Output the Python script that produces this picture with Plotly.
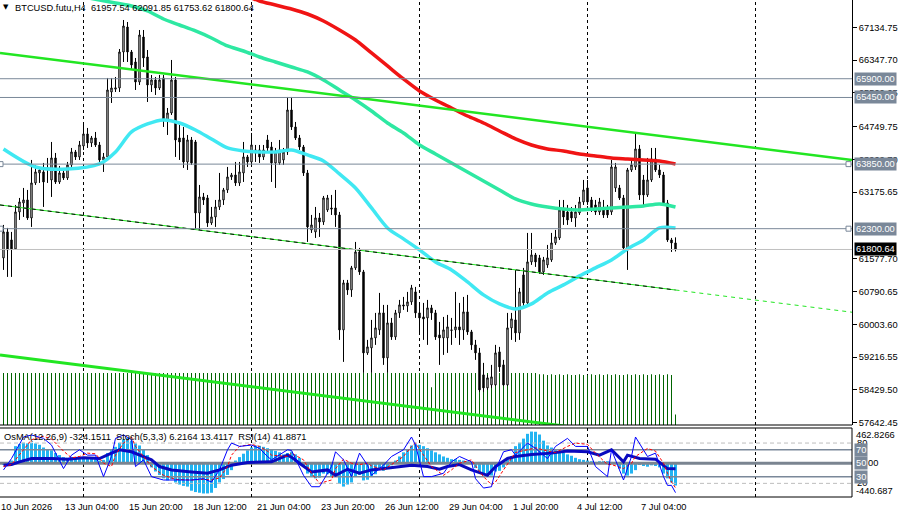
import plotly.graph_objects as go

# ---------------- data ----------------
bars = list(range(169))  # H4 bars, 10 Jun 16:00 ... 8 Jul 16:00

open_ = [
    61598, 62222, 62030, 61814, 62702, 62918, 62990, 62558, 63398, 63638,
    63662, 63758, 63470, 63998, 63422, 63638, 63518, 63830, 64142, 64022,
    64286, 64574, 64358, 64478, 64310, 63950, 64022, 65582, 65650, 65678,
    66542, 67142, 66542, 66302, 65822, 66902, 66422, 65750, 65870, 65678,
    65918, 64910, 65078, 65870, 64478, 64478, 63902, 64430, 64382, 62678,
    63062, 63038, 62438, 62582, 62822, 62990, 63230, 63542, 63590, 63398,
    63638, 64022, 63902, 64190, 64190, 64022, 64430, 64262, 63878, 63878,
    63950, 64142, 65150, 64742, 64478, 64262, 63638, 62270, 62222, 62558,
    62462, 62750, 62798, 62798, 62630, 59870, 60998, 60830, 61358, 61742,
    61262, 59318, 59438, 59678, 59870, 60278, 59198, 60038, 59702, 60278,
    60470, 60446, 60542, 60782, 60278, 60182, 60158, 60398, 60278, 59750,
    59678, 59678, 59870, 59870, 59942, 59870, 60302, 59822, 59510, 59318,
    58790, 58478, 58550, 58550, 59342, 59030, 58550, 59918, 60110, 59798,
    61190, 60518, 61502, 61670, 61598, 61262, 61430, 61550, 61958, 62078,
    62750, 62702, 62702, 62558, 62678, 62942, 63278, 62990, 62870, 62702,
    62750, 62750, 62702, 63278, 63278, 63038, 61790, 63710, 63782, 64214,
    63470, 63110, 63470, 63974, 63710, 63590, 62918, 62030, 61957.54]

high = [
    62390, 62318, 62222, 62870, 63038, 63278, 63230, 63950, 63830, 63758,
    63878, 63998, 64382, 64118, 63806, 63710, 63902, 64238, 64190, 64406,
    64790, 64718, 64526, 64622, 64382, 64118, 65918, 65918, 65942, 66614,
    67310, 67262, 66590, 66398, 67070, 67070, 66590, 65990, 65942, 65990,
    65990, 65198, 66350, 65942, 64790, 64742, 64550, 64502, 64430, 63350,
    63158, 63110, 62822, 62990, 63638, 63278, 63782, 63638, 63902, 63902,
    64382, 64070, 64598, 64310, 64310, 64310, 64550, 64382, 64238, 64430,
    64238, 65462, 65462, 64862, 64550, 64310, 63710, 62630, 62822, 62678,
    63086, 63110, 63110, 63230, 62702, 61070, 61070, 61406, 61982, 61838,
    61310, 59630, 60110, 60278, 60758, 60470, 60470, 60158, 60350, 60590,
    60662, 60782, 60950, 60902, 60518, 60518, 60590, 60470, 60350, 60062,
    60182, 60230, 60158, 60782, 60518, 60662, 60710, 59870, 59630, 59438,
    59078, 58790, 59030, 59510, 59462, 59150, 60278, 60278, 61310, 60878,
    61358, 62198, 62198, 61718, 61670, 61622, 61910, 62198, 62270, 62990,
    62990, 62870, 62822, 62870, 63062, 63470, 63470, 63062, 62990, 63038,
    62990, 62870, 63950, 63878, 63350, 63110, 63758, 63950, 64598, 64310,
    63590, 63998, 64238, 64238, 63830, 63662, 62990, 62078, 62091.85]

low = [
    61310, 61142, 61142, 61790, 62510, 62582, 62510, 62342, 63350, 63398,
    62822, 63398, 63062, 63374, 63374, 63470, 63470, 63782, 63950, 63950,
    64190, 64238, 64262, 64262, 63902, 63662, 63950, 65318, 65582, 65582,
    66302, 66302, 66110, 65630, 65750, 66182, 65342, 65582, 65510, 65630,
    64742, 64550, 65030, 64022, 63950, 63758, 63710, 63830, 62270, 62270,
    62870, 62342, 62390, 62342, 62750, 62870, 63158, 63470, 63326, 63326,
    63422, 63782, 63830, 63902, 63878, 63950, 64142, 63422, 63278, 63830,
    63830, 64070, 64670, 64430, 64190, 63566, 61982, 62198, 62078, 62102,
    62390, 62702, 62630, 62342, 59630, 59102, 60710, 60662, 61310, 61190,
    58838, 59270, 58838, 59510, 59750, 59030, 58838, 59630, 59630, 60158,
    60350, 60302, 60470, 60158, 59750, 59630, 59510, 60110, 59630, 59030,
    59270, 59318, 59510, 59678, 59510, 59630, 59750, 59390, 59150, 58382,
    58382, 58430, 58478, 58526, 58862, 58526, 58526, 59630, 59582, 59630,
    60398, 60470, 61430, 61382, 61214, 61190, 61358, 61502, 61910, 62030,
    62390, 62390, 62462, 62342, 62630, 62870, 62870, 62702, 62630, 62630,
    62558, 62558, 62630, 63182, 62990, 61766, 61310, 63662, 63710, 62990,
    62870, 63062, 63422, 63662, 63518, 62870, 61982, 61742, 61753.62]

close = [
    62222, 61790, 61814, 62702, 62942, 62990, 62558, 63398, 63662, 63710,
    63422, 63734, 63998, 63422, 63638, 63518, 63830, 64142, 64022, 64310,
    64574, 64358, 64478, 64310, 63950, 64022, 65630, 65678, 65680, 66542,
    67166, 66542, 66230, 65822, 66950, 66398, 65750, 65870, 65678, 65870,
    64910, 65078, 65870, 64430, 64382, 63902, 64430, 63878, 62678, 63062,
    62990, 62438, 62582, 62822, 62990, 63230, 63542, 63590, 63398, 63662,
    64022, 63902, 64310, 64118, 64022, 64190, 64238, 63878, 64142, 64190,
    64142, 65150, 64742, 64478, 64262, 63638, 62342, 62390, 62558, 62462,
    63038, 63038, 62774, 62630, 59870, 60998, 60830, 61358, 61742, 61262,
    59318, 59462, 59678, 59918, 60278, 59198, 60038, 59702, 60278, 60470,
    60446, 60542, 60878, 60278, 60158, 60134, 60398, 60278, 59702, 59678,
    59870, 59942, 59860, 59942, 59870, 60302, 59822, 59510, 59318, 58430,
    58478, 58718, 58742, 59318, 58982, 58550, 59918, 60134, 59798, 60782,
    60518, 61502, 61670, 61502, 61262, 61550, 61598, 61958, 62102, 62750,
    62582, 62510, 62558, 62702, 62942, 63230, 62942, 62798, 62702, 62942,
    62630, 62630, 63782, 63782, 63038, 61838, 63710, 63830, 64214, 63110,
    63110, 63470, 63974, 63710, 63590, 62918, 62030, 61958, 61800.64]

volume = [
    4000, 4000, 4000, 4000, 4000, 4000, 4000, 4000, 4000, 4000,
    4000, 4000, 4000, 4000, 4000, 4000, 4000, 4000, 4000, 4000,
    4000, 4000, 4000, 4000, 4000, 4000, 4000, 4000, 4000, 4000,
    4000, 4000, 4000, 4000, 4000, 4000, 4000, 4000, 4000, 4000,
    4000, 4000, 4000, 4000, 4000, 4000, 4000, 4000, 4000, 4000,
    4000, 4000, 4000, 4000, 4000, 4000, 4000, 4000, 4000, 4000,
    4000, 4000, 4000, 4000, 4000, 4000, 4000, 4000, 4000, 4000,
    4000, 4000, 4000, 4000, 4000, 4000, 4000, 4000, 4000, 4000,
    4000, 4000, 4000, 4000, 4000, 4000, 4000, 4000, 4000, 4000,
    4000, 4000, 4000, 4000, 4000, 4000, 4000, 4000, 4000, 4000,
    4000, 4000, 4000, 4000, 4000, 4000, 4000, 2900, 4000, 4000,
    4000, 4000, 4000, 4000, 4000, 4000, 4000, 4000, 4000, 4000,
    4000, 4000, 4000, 4000, 4000, 4000, 4000, 4000, 4000, 4000,
    4000, 4000, 4000, 4000, 3900, 3900, 3850, 3900, 3850, 3900,
    3850, 3900, 3850, 3850, 3900, 3850, 3850, 3900, 3850, 3900,
    3850, 3900, 3850, 3900, 3850, 3850, 3900, 3850, 3900, 3850,
    3900, 3850, 3900, 3850, 3900, 3850, 3900, 3850, 800]

# moving averages (read at sample bars)
ma_fast_bar = [0, 8, 16, 24, 28, 32, 36, 40, 44, 48, 52, 56, 60, 64, 68, 72, 76, 80, 84, 88,
               92, 96, 100, 104, 108, 112, 116, 120, 124, 128, 132, 136, 140, 144, 148, 152,
               156, 160, 164, 168]
ma_fast = [64214, 63782, 63734, 63854, 64142, 64622, 64814, 64910, 64838, 64670, 64454,
           64238, 64166, 64142, 64142, 64190, 64070, 63926, 63614, 63278, 62798, 62318,
           62054, 61790, 61502, 61310, 61022, 60710, 60494, 60374, 60494, 60758, 60950,
           61166, 61358, 61550, 61814, 62030, 62318, 62318]

ma_mid_bar = list(range(20, 169, 4))
ma_mid = [67862, 67790, 67718, 67646, 67526, 67334, 67190, 67046, 66878, 66686, 66566,
          66422, 66302, 66182, 66062, 65870, 65630, 65390, 65126, 64838, 64598, 64310,
          64094, 63878, 63662, 63446, 63230, 63014, 62894, 62822, 62774, 62750, 62774,
          62798, 62822, 62846, 62894, 62822]

ma_slow_bar = [62] + list(range(64, 169, 4))
ma_slow = [67838, 67766, 67670, 67574, 67454, 67286, 67070, 66830, 66518, 66206, 65894,
           65606, 65390, 65198, 65006, 64838, 64646, 64454, 64310, 64214, 64166, 64094,
           64046, 63998, 63974, 63950, 63926, 63854]

# trend lines: two anchor points each (bar, price)
trend_bars = [0, 168]
upper_line = [66508, 64482]
middle_line = [62859, 60828]
lower_line = [59258, 57227]

# horizontal levels
h_levels = [65900.00, 65450.00, 63850.00, 62300.00]
last_price = 61800.64

# price axis labels
price_ticks = [67134.75, 66347.70, 65560.65, 64749.75, 63962.70, 63175.65, 61577.70,
               60790.65, 60003.60, 59216.55, 58429.50, 57642.45]

# date labels
date_bars = [-0.875, 15, 31, 47, 63, 79, 95, 111, 127, 143, 159]
date_text = ["10 Jun 2026", "13 Jun 04:00", "15 Jun 20:00", "18 Jun 12:00", "21 Jun 04:00",
             "23 Jun 20:00", "26 Jun 12:00", "29 Jun 04:00", "1 Jul 20:00", "4 Jul 12:00",
             "7 Jul 04:00"]
grid_bars = list(range(20, 213, 42))

# indicators
osma = [
    -20, 10, 40, 250, 280, 300, 290, 300, 290, 270,
    230, 200, 190, 150, 120, 90, 80, 90, 80, 80,
    90, 80, 70, 60, 40, 50, 150, 200, 240, 300,
    350, 370, 330, 290, 260, 200, 120, -60, -120, -170,
    -220, -250, -230, -280, -310, -330, -340, -400, -420, -430,
    -440.687, -440, -430, -360, -280, -230, -170, -100, 40, 90,
    140, 190, 230, 260, 255, 240, 220, 200, 180, 160,
    130, 150, 170, 130, 80, -40, -150, -200, -220, -210,
    -150, -160, -190, -200, -300, -340, -310, -280, -200, -170,
    -250, -240, -200, -160, -100, -110, -60, -30, 40, 100,
    160, 200, 260, 280, 270, 250, 220, 190, 160, 130,
    100, 80, 60, 60, 50, 40, 30, -10, -70, -130,
    -170, -190, -180, -120, -110, -60, 50, 100, 250, 300,
    360, 430, 462.8266, 460, 420, 330, 260, 230, 200, 170,
    150, 130, 110, 80, 60, 50, 40, 30, 20, 30,
    30, 30, 20, 20, -80, -150, -180, -150, -100, -20,
    -40, -50, -30, -40, -60, -150, -220, -280, -324.1511]

stoch_bar = [0, 2, 5, 7, 10, 12, 15, 17, 19, 21, 23, 25, 27, 28, 30, 32, 33, 35, 37, 40,
             43, 47, 50, 52, 54, 56, 57, 59, 62, 64, 66, 67, 71, 72, 75, 77, 79, 82, 83, 85,
             87, 89, 91, 92, 95, 97, 100, 102, 103, 105, 107, 110, 112, 114, 117, 118, 120,
             122, 123, 125, 127, 128, 131, 133, 136, 138, 141, 143, 146, 148, 151, 152, 155,
             157, 158, 161, 163, 165, 166, 167, 168]
stoch_main = [40, 57, 89, 92, 87, 77, 42, 62, 70, 62, 62, 30, 60, 87, 92, 85, 45, 55, 30, 25,
              25, 25, 27, 22, 40, 70, 80, 75, 77, 72, 60, 55, 70, 69, 32, 15, 15, 45, 67, 55,
              30, 65, 47, 32, 47, 60, 70, 89, 77, 30, 30, 35, 52, 60, 52, 27, 13, 15, 40, 67,
              70, 62, 80, 72, 57, 75, 87, 75, 75, 45, 30, 70, 25, 60, 89, 60, 65, 30, 17, 17,
              6.2164]
stoch_signal = [45, 48, 70, 85, 90, 86, 68, 58, 60, 65, 64, 50, 45, 62, 80, 89, 75, 60, 45, 32,
                26, 25, 26, 25, 28, 45, 62, 75, 78, 75, 68, 62, 60, 65, 55, 35, 20, 25, 42, 56,
                50, 48, 50, 46, 40, 48, 60, 75, 80, 62, 45, 32, 40, 50, 55, 46, 30, 18, 22, 40,
                58, 66, 70, 73, 68, 66, 75, 80, 78, 65, 48, 48, 42, 50, 60, 72, 68, 50, 35, 22,
                13.4117]

rsi_bar = [0, 2, 4, 7, 12, 16, 20, 24, 27, 29, 32, 34, 37, 39, 42, 47, 51, 54, 57, 61, 64, 67,
           71, 72, 74, 77, 81, 83, 86, 89, 92, 96, 99, 102, 106, 109, 111, 114, 117, 121, 123,
           126, 128, 132, 137, 141, 146, 149, 152, 155, 156, 159, 163, 166, 168]
rsi_val = [47, 48, 52, 57, 57, 56, 58, 57, 65, 70, 67, 62, 55, 45, 40, 37, 35, 40, 47, 51, 51,
           52, 62, 59, 50, 37, 40, 32, 41, 35, 40, 43, 45, 47, 45, 41, 45, 48, 40, 32, 45, 57,
           60, 63, 65, 68, 67, 62, 70, 52, 62, 57, 56, 42, 41.8871]

osc_levels = [80, 70, 50, 30, 20]

# ---------------- layout constants ----------------
W, H = 899, 516
ML, MR, MT, MB = 0, 47, 0, 19
PH = H - MT - MB                      # 497 px plot-area height
main_bottom = (PH - 425) / PH          # main window bottom at 425 px
panel_top = (PH - 428) / PH            # indicator window top at 428 px
x_range = [-0.875, 212.125]
price_range = [57587, 67790]
vol_range = [0, 32700]
osma_range = [-492, 515]
osc_range = [-0.3, 102.4]
FONT = "Liberation Sans"
FS = 9.3

def py(px):
    return (PH - px) / PH

def extend(b, p, xs):
    k = (p[1] - p[0]) / (b[1] - b[0])
    return [p[0] + k * (x - b[0]) for x in xs]

fig = go.Figure()

# volumes (base layer of main window)
fig.add_trace(go.Bar(x=bars, y=volume, xaxis="x", yaxis="y", width=0.25,
                     marker=dict(color="#006400", line=dict(width=0)),
                     hoverinfo="skip", showlegend=False))

# candles
fig.add_trace(go.Candlestick(
    x=bars, open=open_, high=high, low=low, close=close, xaxis="x", yaxis="y2",
    increasing=dict(line=dict(color="#000000", width=1), fillcolor="#FFFFFF"),
    decreasing=dict(line=dict(color="#000000", width=1), fillcolor="#000000"),
    whiskerwidth=0, hoverinfo="skip", showlegend=False))

# moving averages
for xb, yv, col in [(ma_slow_bar, ma_slow, "#F01414"),
                    (ma_mid_bar, ma_mid, "#2EE8A2"),
                    (ma_fast_bar, ma_fast, "#40E8F2")]:
    fig.add_trace(go.Scatter(x=xb, y=yv, xaxis="x", yaxis="y2", mode="lines",
                             line=dict(color=col, width=3.5, shape="spline", smoothing=0.8),
                             hoverinfo="skip", showlegend=False))

# trend lines
LIME = "#22E622"
fig.add_trace(go.Scatter(x=x_range, y=extend(trend_bars, upper_line, x_range), xaxis="x", yaxis="y2",
                         mode="lines", line=dict(color=LIME, width=2.5), hoverinfo="skip", showlegend=False))
fig.add_trace(go.Scatter(x=x_range, y=extend(trend_bars, lower_line, x_range), xaxis="x", yaxis="y2",
                         mode="lines", line=dict(color=LIME, width=3), hoverinfo="skip", showlegend=False))
mid_in = [x_range[0], bars[-1]]
mid_out = [bars[-1], x_range[1]]
fig.add_trace(go.Scatter(x=mid_in, y=extend(trend_bars, middle_line, mid_in), xaxis="x", yaxis="y2",
                         mode="lines", line=dict(color=LIME, width=1), hoverinfo="skip", showlegend=False))
fig.add_trace(go.Scatter(x=mid_in, y=extend(trend_bars, middle_line, mid_in), xaxis="x", yaxis="y2",
                         mode="lines", line=dict(color="#000000", width=1, dash="4px,4px"),
                         hoverinfo="skip", showlegend=False))
fig.add_trace(go.Scatter(x=mid_out, y=extend(trend_bars, middle_line, mid_out), xaxis="x", yaxis="y2",
                         mode="lines", line=dict(color=LIME, width=1, dash="4px,4px"),
                         hoverinfo="skip", showlegend=False))

# indicator window
fig.add_trace(go.Bar(x=bars, y=osma, xaxis="x", yaxis="y3", width=0.75,
                     marker=dict(color="#22B4F2", line=dict(width=0)),
                     hoverinfo="skip", showlegend=False))
for lvl in osc_levels:
    if lvl == 50:
        st = dict(color="#7A8490", width=3)
    elif lvl in (70, 30):
        st = dict(color="#7A8899", width=1.5)
    else:
        st = dict(color="#BDBDBD", width=1, dash="4px,3px")
    fig.add_trace(go.Scatter(x=x_range, y=[lvl, lvl], xaxis="x", yaxis="y4", mode="lines",
                             line=st, hoverinfo="skip", showlegend=False))
fig.add_trace(go.Scatter(x=rsi_bar, y=rsi_val, xaxis="x", yaxis="y4", mode="lines",
                         line=dict(color="#0A0ABE", width=3), hoverinfo="skip", showlegend=False))
fig.add_trace(go.Scatter(x=stoch_bar, y=stoch_signal, xaxis="x", yaxis="y4", mode="lines",
                         line=dict(color="#FF0000", width=1, dash="3px,2px"), hoverinfo="skip", showlegend=False))
fig.add_trace(go.Scatter(x=stoch_bar, y=stoch_main, xaxis="x", yaxis="y4", mode="lines",
                         line=dict(color="#0000FF", width=1), hoverinfo="skip", showlegend=False))

# ---------------- shapes ----------------
shapes = []
for b in grid_bars:
    for y0, y1 in [(main_bottom, 1), (0, panel_top)]:
        shapes.append(dict(type="line", xref="x", yref="paper", x0=b, x1=b, y0=y0, y1=y1,
                           line=dict(color="#000000", width=1, dash="3px,3px"), layer="below"))
for lvl in h_levels:
    shapes.append(dict(type="line", xref="paper", yref="y2", x0=0, x1=1, y0=lvl, y1=lvl,
                       line=dict(color="#7A8899", width=1), layer="above"))
shapes.append(dict(type="line", xref="paper", yref="y2", x0=0, x1=1, y0=last_price, y1=last_price,
                   line=dict(color="#C0C0C0", width=1), layer="above"))
for lvl in h_levels[2:]:
    for anchor, a, bb in [(1, -6, -1), (0, -2, 3)]:
        shapes.append(dict(type="rect", xref="paper", yref="y2", xsizemode="pixel", ysizemode="pixel",
                           xanchor=anchor, yanchor=lvl, x0=a, x1=bb, y0=-2.5, y1=2.5,
                           line=dict(color="#7A8899", width=1), fillcolor="#FFFFFF", layer="above"))
# borders
shapes.append(dict(type="line", xref="paper", yref="paper", x0=0, x1=1, y0=main_bottom, y1=main_bottom,
                   line=dict(color="#000000", width=1)))
shapes.append(dict(type="line", xref="paper", yref="paper", x0=0, x1=1, y0=panel_top, y1=panel_top,
                   line=dict(color="#000000", width=1)))
shapes.append(dict(type="line", xref="paper", yref="paper", x0=0, x1=1, y0=0, y1=0,
                   line=dict(color="#000000", width=1)))
shapes.append(dict(type="line", xref="paper", yref="paper", x0=1, x1=1, y0=0, y1=panel_top,
                   line=dict(color="#000000", width=1)))

# ---------------- annotations ----------------
ann = []
txt = dict(family=FONT, size=FS, color="#000000")
ann.append(dict(xref="paper", yref="paper", x=0, y=py(7), xanchor="left", yanchor="middle", xshift=2,
                text="▼", showarrow=False, font=dict(family="DejaVu Sans", size=7, color="#000000"),
                borderpad=0))
ann.append(dict(xref="paper", yref="paper", x=0, y=py(8), xanchor="left", yanchor="middle", xshift=14,
                text="BTCUSD.futu,H4  61957.54 62091.85 61753.62 61800.64", showarrow=False,
                font=txt, borderpad=0))
ann.append(dict(xref="paper", yref="paper", x=0, y=py(437), xanchor="left", yanchor="middle", xshift=3,
                text="OsMA(12,26,9) -324.1511  Stoch(5,3,3) 6.2164 13.4117  RSI(14) 41.8871",
                showarrow=False, font=txt, borderpad=0))
for b, t in zip(date_bars, date_text):
    ann.append(dict(xref="x", yref="paper", x=b, y=py(507), xanchor="left", yanchor="middle",
                    text=t, showarrow=False, font=txt, borderpad=0))
for lvl in h_levels:
    ann.append(dict(xref="paper", yref="y2", x=1, y=lvl, xanchor="left", yanchor="middle", xshift=2,
                    text=f"{lvl:.2f}", showarrow=False, bgcolor="#7A8899",
                    font=dict(family=FONT, size=FS, color="#FFFFFF"), borderpad=1))
ann.append(dict(xref="paper", yref="y2", x=1, y=last_price, xanchor="left", yanchor="middle", xshift=2,
                text=f"{last_price:.2f}", showarrow=False, bgcolor="#000000",
                font=dict(family=FONT, size=FS, color="#FFFFFF"), borderpad=1))
# indicator scale labels
ann.append(dict(xref="paper", yref="y3", x=1, y=max(osma), xanchor="left", yanchor="middle", xshift=3,
                yshift=-3, text=f"{max(osma):.4f}", showarrow=False, font=txt, borderpad=0))
ann.append(dict(xref="paper", yref="y3", x=1, y=min(osma), xanchor="left", yanchor="middle", xshift=3,
                yshift=2, text=f"{min(osma):.3f}", showarrow=False, font=txt, borderpad=0))
for lvl in osc_levels:
    if lvl in (80, 20):
        ann.append(dict(xref="paper", yref="y4", x=1, y=lvl, xanchor="left", yanchor="middle", xshift=4,
                        text=str(lvl), showarrow=False, font=txt, borderpad=0))
for lvl in osc_levels:
    if lvl in (70, 50, 30):
        if lvl == 50:
            ann.append(dict(xref="paper", yref="y4", x=1, y=lvl, xanchor="left", yanchor="middle", xshift=15,
                            text="00", showarrow=False, font=txt, borderpad=0))
        ann.append(dict(xref="paper", yref="y4", x=1, y=lvl, xanchor="left", yanchor="middle", xshift=2,
                        text=str(lvl), showarrow=False, bgcolor="#7A8899",
                        font=dict(family=FONT, size=FS, color="#FFFFFF"), borderpad=1))

fig.update_layout(
    width=W, height=H, margin=dict(l=ML, r=MR, t=MT, b=MB),
    paper_bgcolor="#FFFFFF", plot_bgcolor="#FFFFFF", showlegend=False,
    font=dict(family=FONT, size=FS, color="#000000"),
    barmode="overlay", boxgap=0.5,
    xaxis=dict(domain=[0, 1], range=x_range, anchor="y3", showticklabels=False, showgrid=False,
               zeroline=False, showline=False, ticks="", rangeslider=dict(visible=False)),
    yaxis=dict(domain=[main_bottom, 1], range=vol_range, visible=False),
    yaxis2=dict(overlaying="y", side="right", anchor="x", range=price_range,
                tickvals=price_ticks, ticktext=[f"{v:.2f}" for v in price_ticks],
                ticks="outside", ticklen=4, tickcolor="#000000", showline=True, linecolor="#000000",
                linewidth=1, showgrid=False, zeroline=False, tickfont=dict(family=FONT, size=FS)),
    yaxis3=dict(domain=[0, panel_top], range=osma_range, visible=False),
    yaxis4=dict(overlaying="y3", range=osc_range, visible=False),
    shapes=shapes, annotations=ann,
)

fig.write_html("out.html")
